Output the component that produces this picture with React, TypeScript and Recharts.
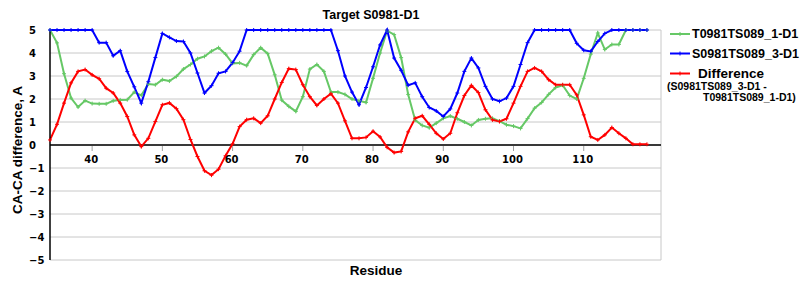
import { LineChart, Line, XAxis, YAxis, CartesianGrid, ReferenceLine } from 'recharts'

// residue numbers along the x axis
const residues = [
    34, 35, 36, 37, 38, 39, 40, 41, 42, 43,
    44, 45, 46, 47, 48, 49, 50, 51, 52, 53,
    54, 55, 56, 57, 58, 59, 60, 61, 62, 63,
    64, 65, 66, 67, 68, 69, 70, 71, 72, 73,
    74, 75, 76, 77, 78, 79, 80, 81, 82, 83,
    84, 85, 86, 87, 88, 89, 90, 91, 92, 93,
    94, 95, 96, 97, 98, 99, 100, 101, 102, 103,
    104, 105, 106, 107, 108, 109, 110, 111, 112, 113,
    114, 115, 116, 117, 118, 119,
]

// T0981TS089_1-D1
const modelT = [
    5, 4.44, 3.1, 2.04, 1.65, 1.93, 1.8, 1.79, 1.79, 1.92,
    1.96, 1.97, 2.3, 2.16, 2.65, 2.62, 2.84, 2.78, 2.98, 3.3,
    3.5, 3.75, 3.85, 4.08, 4.23, 3.95, 3.55, 3.57, 3.45, 3.93,
    4.23, 3.97, 3.05, 1.95, 1.68, 1.46, 2.1, 3.3, 3.5, 3.2,
    2.3, 2.3, 2.2, 2.0, 1.92, 1.85, 2.9, 4.0, 4.97, 4.8,
    3.8, 2.2, 1.08, 0.85, 0.75, 0.95, 1.16, 1.26, 1.14, 1.0,
    0.85, 1.09, 1.14, 1.16, 1.04, 0.88, 0.82, 0.72, 1.15, 1.6,
    1.85, 2.2, 2.5, 2.6, 2.15, 2.0, 2.9, 3.95, 4.87, 4.15,
    4.37, 4.37, 5, 5, 5, 5,
]

// S0981TS089_3-D1
const modelS = [
    5, 5, 5, 5, 5, 5, 5, 4.45, 4.45, 3.88,
    4.1, 3.2, 2.53, 1.82, 2.75, 3.8, 4.85, 4.68, 4.52, 4.5,
    4.0, 3.13, 2.26, 2.58, 3.12, 3.2, 3.58, 4.08, 5, 5,
    5, 5, 5, 5, 5, 5, 5, 5, 5, 5,
    5, 4.1, 3.0, 2.3, 1.75, 2.5, 3.4, 4.35, 5, 3.78,
    3.25, 2.6, 2.7, 2.1, 1.63, 1.48, 1.24, 1.57, 2.26, 3.2,
    3.78, 3.35, 2.55, 2.0, 1.9, 2.04, 2.55, 3.5, 4.45, 5,
    5, 5, 5, 5, 5, 4.42, 4.12, 4.07, 4.5, 4.85,
    5, 5, 5, 5, 5, 5,
]

// Difference (S0981TS089_3-D1 - T0981TS089_1-D1)
const difference = [
    0.22, 0.9, 1.82, 2.7, 3.2, 3.28, 3.05, 2.88, 2.47, 2.26,
    1.82, 1.24, 0.44, -0.07, 0.29, 1.02, 1.75, 1.83, 1.58, 1.1,
    0.24, -0.5, -1.12, -1.31, -1.05, -0.47, 0.05, 0.8, 1.1, 1.16,
    0.95, 1.27, 2.0, 2.72, 3.32, 3.28, 2.62, 2.1, 1.72, 2.0,
    2.23, 1.82, 1.05, 0.29, 0.29, 0.33, 0.6, 0.35, -0.1, -0.33,
    -0.28, 0.57, 1.16, 1.27, 0.9, 0.51, 0.26, 0.51, 1.4, 2.15,
    2.59, 2.28, 1.53, 1.09, 1.02, 1.14, 1.82, 2.55, 3.2, 3.35,
    3.2, 2.84, 2.62, 2.62, 2.62, 2.18, 1.31, 0.36, 0.22, 0.44,
    0.76, 0.51, 0.29, 0.03, 0.03, 0.03,
]

const xTicks = [40, 50, 60, 70, 80, 90, 100, 110]
const yTicks = [-5, -4, -3, -2, -1, 0, 1, 2, 3, 4, 5]

const GREEN = '#66c866'
const BLUE = '#0000ff'
const RED = '#ff0000'
const GRID = '#c8c8c8'

const data = residues.map((r, i) => ({
    residue: r,
    t: modelT[i],
    s: modelS[i],
    diff: difference[i],
}))

const tickFont = { fontFamily: 'DejaVu Sans', fontWeight: 'bold', fontSize: 10, fill: '#000' }
const labelFont = { fontFamily: 'Liberation Sans, Arial', fontWeight: 'bold', color: '#000' }

function CrossDot(props: any) {
    const { cx, cy, stroke } = props
    if (cx == null || cy == null) return null
    return (
        <path
            d={`M${cx - 2},${cy}h4M${cx},${cy - 2}v4`}
            stroke={stroke}
            strokeWidth={1}
            fill="none"
        />
    )
}

// x ticks sit on the zero line, not at the bottom of the plot
function XTick(props: any) {
    const { x, payload } = props
    return (
        <g>
            <line x1={x} x2={x} y1={146} y2={151} stroke="#a0a0a0" />
            <text x={x - 1} y={163} textAnchor="middle" style={tickFont}>
                {payload.value}
            </text>
        </g>
    )
}

function YTick(props: any) {
    const { y, payload } = props
    const v = payload.value
    return (
        <text x={29} y={y} dy="0.36em" textAnchor="start" style={tickFont}>
            {v < 0 ? '\u2212' + Math.abs(v) : String(v)}
        </text>
    )
}

function LegendBox() {
    const rows = [
        { color: GREEN, y: 34 },
        { color: BLUE, y: 53.5 },
        { color: RED, y: 73.5 },
    ]
    return (
        <svg width={800} height={300} style={{ position: 'absolute', left: 0, top: 0, pointerEvents: 'none' }}>
            {rows.map(r => (
                <g key={r.color}>
                    <line x1={670} x2={690} y1={r.y} y2={r.y} stroke={r.color} strokeWidth={2} />
                    <path d={`M678,${r.y}h4M680,${r.y - 2}v4`} stroke={r.color} strokeWidth={1} />
                </g>
            ))}
            <g style={{ fontFamily: 'Liberation Sans, Arial', fontWeight: 'bold' }} fill="#000">
                <text x={692} y={34} dy="0.35em" fontSize={12.5}>T0981TS089_1-D1</text>
                <text x={692} y={53.5} dy="0.35em" fontSize={12.5}>S0981TS089_3-D1</text>
                <text x={698} y={73.5} dy="0.35em" fontSize={13.5}>Difference</text>
                <text x={667} y={86.5} dy="0.35em" fontSize={10.5}>(S0981TS089_3-D1 -</text>
                <text x={703} y={97.5} dy="0.35em" fontSize={10.5}>T0981TS089_1-D1)</text>
            </g>
        </svg>
    )
}

export default function App() {
    return (
        <div style={{ position: 'absolute', left: 0, top: 0, width: 800, height: 300, background: '#fff' }}>
            <LineChart
                width={800}
                height={300}
                data={data}
                margin={{ top: 30, right: 139, bottom: 39, left: 49 }}
            >
                <CartesianGrid vertical={false} stroke={GRID} strokeWidth={1} />
                <XAxis
                    dataKey="residue"
                    type="number"
                    domain={[34, 121]}
                    ticks={xTicks}
                    interval={0}
                    height={1}
                    axisLine={false}
                    tickLine={false}
                    tick={<XTick />}
                />
                <YAxis
                    type="number"
                    domain={[-5, 5]}
                    ticks={yTicks}
                    interval={0}
                    width={1}
                    axisLine={{ stroke: '#000', strokeWidth: 1.5 }}
                    tickLine={false}
                    tick={<YTick />}
                />
                <ReferenceLine x={121} stroke={GRID} />
                <ReferenceLine y={0} stroke="#000" strokeWidth={1.5} />
                <Line
                    type="linear"
                    dataKey="t"
                    stroke={GREEN}
                    strokeWidth={2}
                    dot={<CrossDot />}
                    activeDot={false}
                    isAnimationActive={false}
                />
                <Line
                    type="linear"
                    dataKey="s"
                    stroke={BLUE}
                    strokeWidth={2}
                    dot={<CrossDot />}
                    activeDot={false}
                    isAnimationActive={false}
                />
                <Line
                    type="linear"
                    dataKey="diff"
                    stroke={RED}
                    strokeWidth={2}
                    dot={<CrossDot />}
                    activeDot={false}
                    isAnimationActive={false}
                />
            </LineChart>

            <div style={{ ...labelFont, position: 'absolute', left: 371, top: 15, fontSize: 12.5, transform: 'translate(-50%, -50%)', whiteSpace: 'nowrap' }}>
                Target S0981-D1
            </div>
            <div style={{ ...labelFont, position: 'absolute', left: 376, top: 270, fontSize: 13.5, transform: 'translate(-50%, -50%)', whiteSpace: 'nowrap' }}>
                Residue
            </div>
            <div style={{ ...labelFont, position: 'absolute', left: 17, top: 150, fontSize: 13.5, transform: 'translate(-50%, -50%) rotate(-90deg)', whiteSpace: 'nowrap' }}>
                CA-CA difference, A
            </div>
            <LegendBox />
        </div>
    )
}
